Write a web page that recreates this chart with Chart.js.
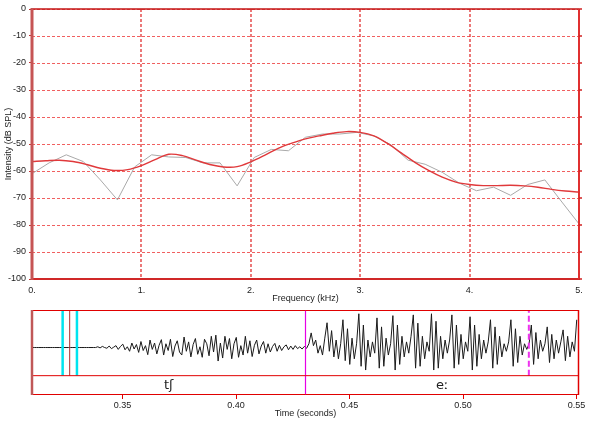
<!DOCTYPE html>
<html><head><meta charset="utf-8">
<script src="https://cdn.jsdelivr.net/npm/chart.js@4.4.1/dist/chart.umd.min.js"></script>
<style>
html,body{margin:0;padding:0;background:#fff;}
#wrap{position:relative;width:590px;height:425px;overflow:hidden;background:#fff;}
canvas{position:absolute;left:0;}
#spec{top:0;}
#wave{top:305px;}
</style></head><body>
<div id="wrap"><canvas id="spec" width="590" height="305"></canvas><canvas id="wave" width="590" height="120"></canvas></div>
<script>
// ---- spectrum (gray) ----
const specFreqs = [0,0.156,0.313,0.469,0.625,0.781,0.938,1.094,1.25,1.406,1.563,1.719,1.875,2.031,2.188,2.344,2.5,2.656,2.813,2.969,3.125,3.281,3.438,3.594,3.75,3.906,4.063,4.219,4.375,4.531,4.688,4.844,5.0];
const specLevels = [-61,-57,-54,-56.5,-63.3,-70.7,-58.5,-54,-54.8,-55,-57,-57,-65.5,-55,-52,-52.5,-47.5,-46.3,-46.3,-45.7,-47,-50.3,-56,-57.5,-60.5,-64.5,-67.3,-66,-69,-65,-63.3,-71.5,-79.6];
// ---- smoothed envelope (red) ----
const lpcFreqs = [0,0.125,0.25,0.375,0.5,0.625,0.75,0.875,1.0,1.125,1.25,1.375,1.5,1.625,1.75,1.875,2.0,2.125,2.25,2.375,2.5,2.625,2.75,2.875,3.0,3.125,3.25,3.375,3.5,3.625,3.75,3.875,4.0,4.125,4.25,4.375,4.5,4.625,4.75,4.875,5.0];
const lpcLevels = [-56.5,-56.2,-56,-56.5,-57.6,-59,-59.8,-59.5,-58,-55.8,-53.8,-54.3,-56,-57.6,-58.5,-58.4,-56.6,-54.2,-51.6,-49.7,-48.1,-47,-46,-45.4,-45.7,-47,-49.8,-53.3,-56.8,-59.8,-62.3,-64.1,-65,-65.4,-65.4,-65.3,-65.5,-66,-66.8,-67.4,-67.8];
const freqTicks = [0,1,2,3,4,5];
const levelTicks = [0,-10,-20,-30,-40,-50,-60,-70,-80,-90,-100];

// ---- waveform ----
const waveStart = 0.3101, waveStep = 0.001;
const waveAmp = [
0,0,0,0,0,0,0,0,0,0, 0,0,0,0,0,0,0,0,0,0, 0,0,0,0,0,0,0,0,0,
0.02,-0.01,0.03,0.0,-0.02,0.04,-0.03,0.01,0.05,-0.05,
0.03,0.09,-0.06,0.02,-0.1,0.12,-0.04,0.08,-0.13,0.16,
-0.08,0.05,-0.19,0.2,-0.05,0.12,-0.17,0.06,0.21,-0.2,
0.1,-0.08,0.22,-0.24,0.04,0.18,-0.12,-0.2,0.28,-0.1,
0.15,-0.25,0.08,0.24,-0.18,0.02,-0.26,0.22,0.1,-0.22,
0.3,-0.12,0.33,-0.36,0.12,-0.28,0.3,-0.05,0.24,-0.3,
0.1,0.27,-0.26,0.05,-0.2,0.3,-0.15,0.18,-0.24,0.06,
0.2,-0.17,0.04,0.16,-0.15,0.1,-0.12,0.03,0.11,-0.1,
0.06,-0.08,0.02,0.07,-0.06,0.04,-0.05,0.05,-0.03,0.02,
-0.04,0.03,
-0.02,0.1,0.39,0.05,0.2,-0.15,0.05,-0.2,0.25,0.66,
-0.1,0.45,-0.25,0.2,-0.3,0.1,0.74,-0.35,0.5,-0.45,
0.25,-0.3,0.1,0.9,-0.5,0.6,-0.6,0.2,-0.25,0.15,
-0.15,0.79,-0.55,0.55,-0.5,0.25,-0.2,0.1,0.85,-0.6,
0.6,-0.45,0.3,-0.25,0.15,-0.15,0.3,0.87,-0.55,0.65,
-0.5,0.3,-0.3,0.15,-0.1,0.9,-0.6,0.7,-0.55,0.3,
-0.3,0.2,-0.15,0.2,0.87,-0.55,0.6,-0.45,0.35,-0.3,
0.15,-0.1,0.82,-0.6,0.6,-0.5,0.35,-0.3,0.2,-0.15,
0.15,0.74,-0.55,0.55,-0.45,0.3,-0.25,0.1,-0.1,0.15,
0.74,-0.5,0.5,-0.4,0.3,-0.2,0.1,-0.05,0.1,0.6,
-0.45,0.4,-0.3,0.2,-0.1,0.1,0.55,-0.4,0.35,-0.3,
0.2,-0.15,0.15,0.47,-0.35,0.3,-0.25,0.15,-0.1,0.74
];
const timeTicks = [0.35,0.40,0.45,0.50,0.55];
const tierBounds = [0.3101,0.4306,0.5511];
const tierLabels = ['tʃ','eː'];
const cursorTimes = [0.3236,0.3299];
const centreTime = 0.3267;
const dashTime = 0.529;
const ampRange = [-1.265,1.0];
const tierLine = -0.75;

const FONT = "'Liberation Sans', Arial, sans-serif";
const TXT = '#222';

function seg(ctx, x1, y1, x2, y2, color, w, dash) {
  ctx.save(); ctx.beginPath(); ctx.strokeStyle = color; ctx.lineWidth = w;
  ctx.setLineDash(dash || []); ctx.moveTo(x1, y1); ctx.lineTo(x2, y2); ctx.stroke(); ctx.restore();
}

const specGrid = {
  id: 'specGrid',
  beforeDatasetsDraw(chart) {
    const {ctx, chartArea: a, scales} = chart;
    levelTicks.forEach(v => {
      const y = Math.round(scales.y.getPixelForValue(v)) + 0.5;
      seg(ctx, a.left, y, a.right, y, '#f06060', 1, [3, 2]);
    });
    freqTicks.forEach(v => {
      const x = Math.round(scales.x.getPixelForValue(v));
      seg(ctx, x, a.top, x, a.bottom, '#e03030', 1.3, [3, 2]);
    });
  }
};

const specFrame = {
  id: 'specFrame',
  afterDraw(chart) {
    const {ctx, chartArea: a, scales} = chart;
    seg(ctx, a.left, a.top, a.right, a.top, '#c41414', 1.5);
    seg(ctx, a.left, a.bottom, a.right + 1, a.bottom, '#d02828', 2);
    seg(ctx, a.right, a.top, a.right, a.bottom, '#e03030', 2);
    levelTicks.forEach(v => { const y = scales.y.getPixelForValue(v); seg(ctx, a.right, y, a.right + 3, y, '#d02020', 1.5); });
    seg(ctx, a.left, a.top - 1, a.left, a.bottom + 1, '#c65454', 3);
  }
};

new Chart(document.getElementById('spec'), {
  type: 'line',
  data: { datasets: [
    { data: lpcFreqs.map((f, i) => ({x: f, y: lpcLevels[i]})), borderColor: '#e0393b', borderWidth: 1.4, pointRadius: 0, tension: 0.35, fill: false },
    { data: specFreqs.map((f, i) => ({x: f, y: specLevels[i]})), borderColor: '#a9a9a9', borderWidth: 1, pointRadius: 0, tension: 0, fill: false }
  ]},
  options: {
    responsive: false, animation: false, events: [],
    layout: { padding: { left: 0, right: 11, top: 9, bottom: 0 } },
    plugins: { legend: { display: false }, tooltip: { enabled: false } },
    scales: {
      x: {
        type: 'linear', min: 0, max: 5,
        afterBuildTicks: s => { s.ticks = freqTicks.map(v => ({value: v})); },
        afterFit: s => { s.height = 26; },
        ticks: { font: {family: FONT, size: 9}, color: TXT, padding: 6, maxRotation: 0, callback: v => v + '.' },
        grid: { display: false, drawTicks: false, tickLength: 0 },
        border: { display: false },
        title: { display: true, text: 'Frequency (kHz)', font: {family: FONT, size: 9}, color: TXT, padding: {top: 0, bottom: 1} }
      },
      y: {
        min: -100, max: 0,
        afterBuildTicks: s => { s.ticks = levelTicks.map(v => ({value: v})); },
        afterFit: s => { s.width = 32; },
        ticks: { font: {family: FONT, size: 9}, color: TXT, padding: 3 },
        grid: { display: true, drawOnChartArea: false, drawTicks: true, tickLength: 3, tickColor: '#c03030' },
        border: { display: false },
        title: { display: true, text: 'Intensity (dB SPL)', font: {family: FONT, size: 9}, color: TXT, padding: {top: 3, bottom: 0} }
      }
    }
  },
  plugins: [specGrid, specFrame]
});

const waveFrame = {
  id: 'waveFrame',
  afterDraw(chart) {
    const {ctx, chartArea: a, scales} = chart;
    const yT = scales.y.getPixelForValue(tierLine);
    seg(ctx, a.left, a.top + 0.5, a.right, a.top + 0.5, '#e00000', 1);
    seg(ctx, a.left, yT, a.right, yT, '#e00000', 1);
    seg(ctx, a.left, a.bottom - 0.5, a.right, a.bottom - 0.5, '#e00000', 1);
    seg(ctx, a.right - 0.5, a.top, a.right - 0.5, a.bottom, '#e00000', 1.5);
    seg(ctx, a.left, a.top, a.left, a.bottom, '#c05858', 2.5);
    ctx.save();
    ctx.font = "13px 'DejaVu Sans', sans-serif";
    ctx.fillStyle = '#222'; ctx.textAlign = 'center'; ctx.textBaseline = 'middle';
    const yMid = (yT + a.bottom) / 2;
    tierLabels.forEach((t, i) => {
      const xm = scales.x.getPixelForValue((tierBounds[i] + tierBounds[i + 1]) / 2);
      ctx.fillText(t, xm, yMid);
    });
    ctx.restore();
  }
};

const vline = (t, y0, color, w, dash) => ({
  data: [{x: t, y: y0}, {x: t, y: ampRange[1]}], borderColor: color, borderWidth: w,
  borderDash: dash || [], pointRadius: 0, tension: 0, fill: false
});

new Chart(document.getElementById('wave'), {
  type: 'line',
  data: { datasets: [
    vline(dashTime, tierLine, '#ee33ee', 2, [6, 3]),
    vline(tierBounds[1], ampRange[0], '#e600e6', 1.2),
    vline(cursorTimes[0], tierLine, '#00e4ef', 2.5),
    vline(cursorTimes[1], tierLine, '#00e4ef', 2.5),
    vline(centreTime, tierLine, '#b03030', 1),
    { data: waveAmp.map((a, i) => ({x: waveStart + i * waveStep, y: a})), borderColor: '#1a1a1a', borderWidth: 1, pointRadius: 0, tension: 0, fill: false }
  ]},
  options: {
    responsive: false, animation: false, events: [],
    layout: { padding: { left: 32, right: 11, top: 5, bottom: 0 } },
    plugins: { legend: { display: false }, tooltip: { enabled: false } },
    scales: {
      x: {
        type: 'linear', min: tierBounds[0], max: tierBounds[2],
        afterBuildTicks: s => { s.ticks = timeTicks.map(v => ({value: v})); },
        afterFit: s => { s.height = 30; },
        ticks: { font: {family: FONT, size: 9}, color: TXT, padding: 1, maxRotation: 0, callback: v => v.toFixed(2) },
        grid: { display: true, drawOnChartArea: false, drawTicks: true, tickLength: 4, tickColor: '#e00000' },
        border: { display: false },
        title: { display: true, text: 'Time (seconds)', font: {family: FONT, size: 9}, color: TXT, padding: {top: 0, bottom: 6} }
      },
      y: { display: false, min: ampRange[0], max: ampRange[1] }
    }
  },
  plugins: [waveFrame]
});
</script>
</body></html>
